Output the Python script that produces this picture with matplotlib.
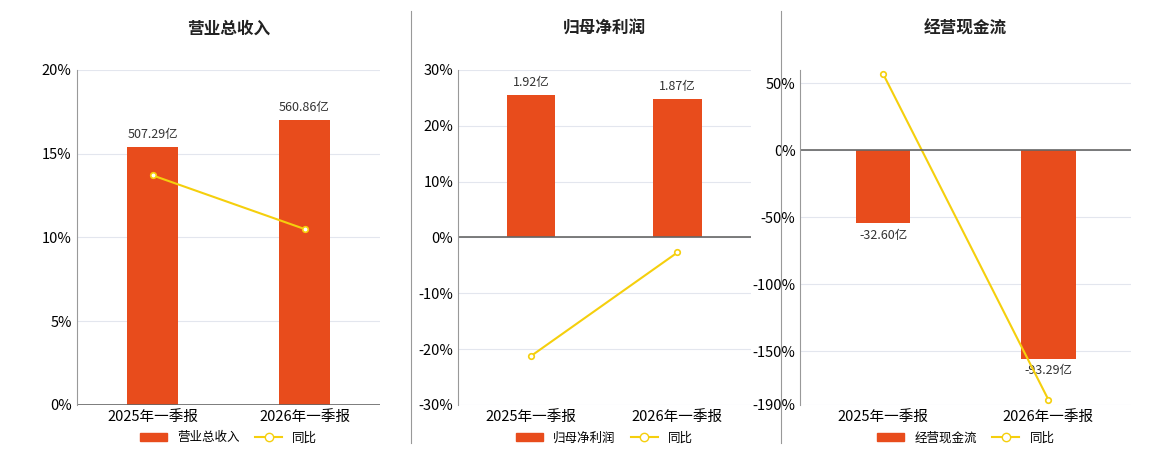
import matplotlib
matplotlib.use("Agg")
import matplotlib.pyplot as plt
from matplotlib.ticker import FuncFormatter
from matplotlib.lines import Line2D
from matplotlib.patches import Patch

plt.rcParams['font.family'] = ['Noto Sans CJK SC', 'DejaVu Sans']

categories = ["2025年一季报", "2026年一季报"]
titles = ["营业总收入", "归母净利润", "经营现金流"]
bar_values = [[507.29, 560.86], [1.92, 1.87], [-32.60, -93.29]]
yoy_values = [[13.7, 10.5], [-21.2, -2.7], [57.0, -186.0]]
ylims = [(0, 20), (-30, 30), (-190, 60)]
yticks = [[0, 5, 10, 15, 20], [-30, -20, -10, 0, 10, 20, 30], [-190, -150, -100, -50, 0, 50]]
bar_scale = [507.29 / 15.4, 1.92 / 25.5, 0.6]  # bar units per percent

BAR = "#e84c1c"
LINE = "#f5cf0d"

fig = plt.figure(figsize=(11.6, 4.5), dpi=100)
lefts = [0.066, 0.395, 0.69]
widths = [0.262, 0.252, 0.285]
for i in range(3):
    ax = fig.add_axes([lefts[i], 0.1, widths[i], 0.745])
    ax2 = ax.twinx()
    ax.set_zorder(ax2.get_zorder() + 1)
    ax.patch.set_visible(False)
    lo, hi = ylims[i]
    k = bar_scale[i]
    ax.set_ylim(lo, hi)
    ax2.set_ylim(lo * k, hi * k)
    x = [0, 1]
    ax2.set_yticks([t * k for t in yticks[i]])
    ax2.tick_params(axis='y', length=0, labelright=False)
    ax2.grid(axis='y', color="#e3e6ee", lw=0.8)
    ax2.set_axisbelow(True)
    ax2.bar(x, bar_values[i], width=0.33, color=BAR, zorder=3)
    for xi, v in zip(x, bar_values[i]):
        ax2.annotate(f"{v:.2f}亿", (xi, v), xytext=(0, 4 if v > 0 else -4),
                     textcoords="offset points", ha="center",
                     va="bottom" if v > 0 else "top", fontsize=9, color="#333333", zorder=5)
    ax.plot(x, yoy_values[i], color=LINE, lw=1.5, marker="o", ms=4,
            mfc="white", mec=LINE, mew=1.2)
    for s in ax2.spines.values():
        s.set_visible(False)
    ax.set_xlim(-0.5, 1.5)
    ax.set_xticks(x)
    ax.set_xticklabels(categories, fontsize=10.5)
    ax.set_yticks(yticks[i])
    ax.yaxis.set_major_formatter(FuncFormatter(lambda v, p: f"{v:.0f}%"))
    ax.tick_params(axis='y', labelsize=10.5, length=0)
    ax.tick_params(axis='x', length=0)
    for s in ["top", "right"]:
        ax.spines[s].set_visible(False)
    ax.spines["left"].set_color("#999999")
    ax.spines["bottom"].set_visible(False)
    ax.axhline(0 if lo < 0 else lo, color="#666666", lw=1.2)
    ax.set_title(titles[i], fontsize=12, fontweight="bold", pad=26, color="#222222")
    handles = [Patch(color=BAR), Line2D([0], [0], color=LINE, marker="o", mfc="white", lw=1.5)]
    ax.legend(handles, [titles[i], "同比"], loc="upper center", bbox_to_anchor=(0.5, -0.045),
              ncol=2, frameon=False, fontsize=9, handlelength=2.2, columnspacing=1.2)

for xl in [0.354, 0.673]:
    fig.add_artist(Line2D([xl, xl], [0.015, 0.975], color="#999999", lw=0.8))

fig.savefig("out.png")
